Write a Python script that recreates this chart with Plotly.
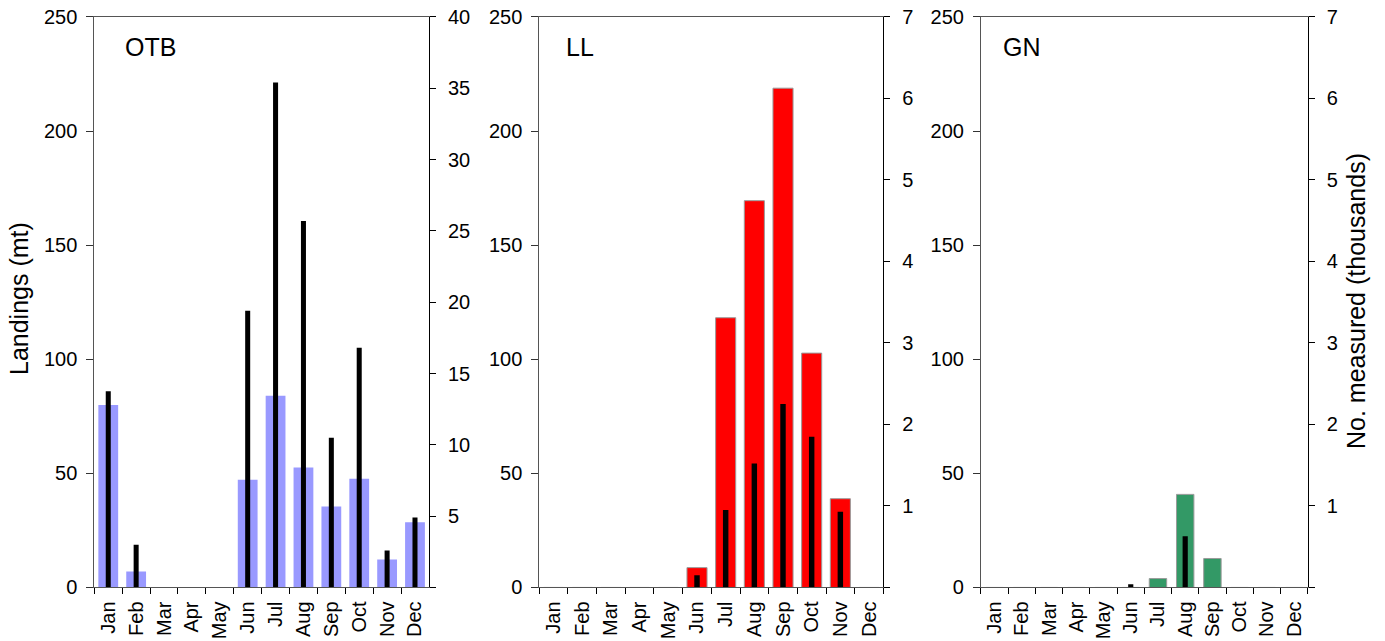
import plotly.graph_objects as go

# Monthly landings (tonnes) and numbers measured (thousands) by gear
months = ["Jan", "Feb", "Mar", "Apr", "May", "Jun", "Jul", "Aug", "Sep", "Oct", "Nov", "Dec"]

otb_landings = [80.0, 7.0, 0, 0, 0, 47.2, 84.0, 52.6, 35.5, 47.7, 12.3, 28.6]
otb_measured = [13.75, 3.0, 0, 0, 0, 19.4, 35.4, 25.7, 10.5, 16.8, 2.6, 4.9]

ll_landings = [0, 0, 0, 0, 0, 8.7, 118.2, 169.5, 218.8, 102.7, 38.9, 0]
ll_measured = [0, 0, 0, 0, 0, 0.15, 0.95, 1.52, 2.25, 1.85, 0.93, 0]

gn_landings = [0, 0, 0, 0, 0, 0, 3.9, 40.8, 12.7, 0, 0, 0]
gn_measured = [0, 0, 0, 0, 0, 0.04, 0, 0.63, 0, 0, 0, 0]

gear_names = ["OTB", "LL", "GN"]
landings_ticks = [0, 50, 100, 150, 200, 250]
measured_ticks_otb = [0, 5, 10, 15, 20, 25, 30, 35, 40]
measured_ticks_other = [0, 1, 2, 3, 4, 5, 6, 7]

FONT = "Liberation Sans, Arial, sans-serif"
TICK_SIZE = 20

panels = [
    dict(name="OTB", land=otb_landings, meas=otb_measured, color="#9999FF", line="rgba(0,0,0,0)",
         lw=0, bw=0.71, mw=0.18, dom=[0.0681, 0.3097], rmax=40, rticks=measured_ticks_otb, lab_x=0.087),
    dict(name="LL", land=ll_landings, meas=ll_measured, color="#FF0000", line="#9a9a9a",
         lw=1, bw=0.70, mw=0.19, dom=[0.3894, 0.6378], rmax=7, rticks=measured_ticks_other, lab_x=0.073),
    dict(name="GN", land=gn_landings, meas=gn_measured, color="#339966", line="#9a9a9a",
         lw=1, bw=0.64, mw=0.19, dom=[0.7083, 0.9442], rmax=7, rticks=measured_ticks_other, lab_x=0.061),
]

y_dom = [0.0835, 0.9735]

fig = go.Figure()
layout = dict(
    width=1385, height=641,
    margin=dict(l=0, r=0, t=0, b=0, autoexpand=False),
    paper_bgcolor="white", plot_bgcolor="white",
    barmode="overlay", showlegend=False,
    font=dict(family=FONT, size=TICK_SIZE, color="black"),
)
annotations = []

for i, p in enumerate(panels):
    n = i + 1
    xa = "x" if n == 1 else f"x{n}"
    yl_id, yr_id, yc_id = 3 * i + 1, 3 * i + 2, 3 * i + 3
    yl = "y" if yl_id == 1 else f"y{yl_id}"
    yr, yc = f"y{yr_id}", f"y{yc_id}"

    fig.add_trace(go.Bar(
        x=months, y=p["land"], xaxis=xa, yaxis=yl, width=p["bw"],
        marker=dict(color=p["color"], line=dict(color=p["line"], width=p["lw"])),
    ))
    fig.add_trace(go.Bar(
        x=months, y=p["meas"], xaxis=xa, yaxis=yr, width=p["mw"],
        marker=dict(color="black", line=dict(width=0)),
    ))

    xkey = "xaxis" if n == 1 else f"xaxis{n}"
    layout[xkey] = dict(
        domain=p["dom"], anchor=yl, type="category", categoryorder="array", categoryarray=months,
        range=[-0.5, 11.5], tickson="boundaries", ticks="outside", ticklen=6, tickcolor="black",
        tickangle=-90, showline=True, linecolor="#555555", linewidth=1, mirror=True,
        showgrid=False, zeroline=False, tickfont=dict(size=TICK_SIZE), automargin=False,
        ticklabelstandoff=5,
    )
    lkey = "yaxis" if yl_id == 1 else f"yaxis{yl_id}"
    layout[lkey] = dict(
        domain=y_dom, anchor=xa, range=[0, 250], tickvals=landings_ticks,
        ticks="outside", ticklen=7, tickcolor="#333333", showline=True, linecolor="#555555",
        linewidth=1, showgrid=False, zeroline=False, tickfont=dict(size=TICK_SIZE), automargin=False,
        ticklabelstandoff=5,
    )
    rtext = ["" if v == 0 else str(v) for v in p["rticks"]]
    layout[f"yaxis{yr_id}"] = dict(
        domain=y_dom, anchor=xa, overlaying=yl, side="right", range=[0, p["rmax"]],
        tickvals=p["rticks"], ticktext=rtext, ticks="outside", ticklen=6, tickcolor="black",
        showline=True, linecolor="black", linewidth=1, showgrid=False, zeroline=False,
        tickfont=dict(size=TICK_SIZE), automargin=False, ticklabelstandoff=8,
    )
    # inner half of the crossing tick marks on the right-hand axis
    layout[f"yaxis{yc_id}"] = dict(
        domain=y_dom, anchor=xa, overlaying=yl, side="right", range=[0, p["rmax"]],
        tickvals=p["rticks"], ticks="inside", ticklen=6, tickcolor="black",
        showticklabels=False, showline=False, showgrid=False, zeroline=False, automargin=False,
    )

    annotations.append(dict(
        text=p["name"], xref=f"{xa} domain", yref="paper", x=p["lab_x"], y=0.926,
        xanchor="left", yanchor="middle", showarrow=False, font=dict(size=25, family=FONT),
    ))

annotations.append(dict(
    text="Landings (mt)", xref="paper", yref="paper", x=19 / 1385, y=1 - 299 / 641,
    textangle=-90, showarrow=False, xanchor="center", yanchor="middle",
    font=dict(size=25, family=FONT),
))
annotations.append(dict(
    text="No. measured (thousands)", xref="paper", yref="paper", x=1356 / 1385, y=1 - 301 / 641,
    textangle=-90, showarrow=False, xanchor="center", yanchor="middle",
    font=dict(size=25, family=FONT),
))
layout["annotations"] = annotations

fig.update_layout(**layout)
fig.write_html("out.html")
